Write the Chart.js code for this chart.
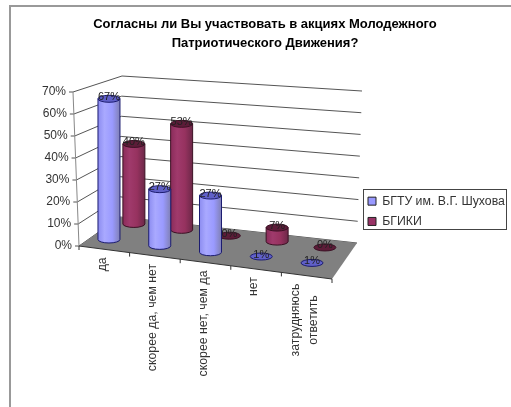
<!DOCTYPE html>
<html>
<head>
<meta charset="utf-8">
<style>html,body{margin:0;padding:0;background:#fff}canvas{display:block}</style>
<script src="https://cdn.jsdelivr.net/npm/chart.js@4/dist/chart.umd.min.js"></script>
</head>
<body>
<canvas id="c" width="511" height="407"></canvas>
<script>
const titleLines = ["Согласны ли Вы участвовать в акциях Молодежного", "Патриотического Движения?"];
const categories = ["да", "скорее да, чем нет", "скорее нет, чем да", "нет", ["затрудняюсь", "ответить"]];
const seriesNames = ["БГТУ им. В.Г. Шухова", "БГИКИ"];
const bgtuValues = [67, 27, 27, 1, 1];
const bgikiValues = [40, 53, 0, 7, 0];
const yTickStep = 10;
const yMax = 70;

// Oblique frame the flat scales are projected into
const FL = [79, 246], FR = [332, 279], BR = [357, 243], BL = [120, 217];
const topL = [73, 92], topBL = [122, 76], topBR = [362, 91];
const legendBox = {left: 363, top: 189, right: 507, bottom: 230};
const rows = [
  {x0: 83.6, x1: 337.4, y0: 236.3, y1: 268.2, unit: 2.1,
   stops: ['#8c8cf0', '#a9a9ff', '#9a9aff', '#8080b4'], cap: '#6060c8', line: '#1c1c70'},
  {x0: 110, x1: 348.75, y0: 221, y1: 250.4, unit: 2.0,
   stops: ['#8a2c5a', '#a03a6c', '#96325f', '#6c2848'], cap: '#5c1c38', line: '#3c1024'}
];
const lerp = (a, b, t) => [a[0] + (b[0] - a[0]) * t, a[1] + (b[1] - a[1]) * t];
const RX = 11, RY = 3.5;

function cylinder(ctx, cx, baseY, topY, row) {
  if (baseY - topY > 3) {
    const g = ctx.createLinearGradient(cx - RX, 0, cx + RX, 0);
    g.addColorStop(0, row.stops[0]);
    g.addColorStop(0.3, row.stops[1]);
    g.addColorStop(0.65, row.stops[2]);
    g.addColorStop(1, row.stops[3]);
    ctx.beginPath();
    ctx.moveTo(cx - RX, topY);
    ctx.lineTo(cx - RX, baseY);
    ctx.ellipse(cx, baseY, RX, RY, 0, Math.PI, 0, true);
    ctx.lineTo(cx + RX, topY);
    ctx.closePath();
    ctx.fillStyle = g;
    ctx.fill();
    ctx.strokeStyle = row.line;
    ctx.lineWidth = 1;
    ctx.stroke();
  }
  ctx.beginPath();
  ctx.ellipse(cx, topY, RX, RY, 0, 0, Math.PI * 2);
  ctx.fillStyle = row.cap;
  ctx.fill();
  ctx.strokeStyle = row.line;
  ctx.lineWidth = 1;
  ctx.stroke();
}

function barPoint(chart, meta, i) {
  const area = chart.chartArea, y = chart.scales.y, row = rows[meta.index], el = meta.data[i];
  const u = (el.x - area.left) / (area.right - area.left);
  const baseY = row.y0 + (row.y1 - row.y0) * u;
  return {
    cx: row.x0 + (row.x1 - row.x0) * u,
    baseY,
    topY: baseY - y.getValueForPixel(el.y) * row.unit,
    row
  };
}

const frame3d = {
  id: 'frame3d',
  afterLayout(chart) {
    const t = chart.titleBlock;
    t.left = 19; t.right = 511; t.top = 14.5;
    const l = chart.legend;
    l.left = legendBox.left - 3; l.right = legendBox.right; l.top = legendBox.top - 2; l.bottom = chart.height;
  },
  beforeDraw(chart) {
    const ctx = chart.ctx, xs = chart.scales.x, ys = chart.scales.y;
    // page frame
    ctx.save();
    ctx.fillStyle = '#fff';
    ctx.fillRect(0, 0, chart.width, chart.height);
    ctx.fillStyle = '#999';
    ctx.fillRect(9, 5, 2, chart.height - 5);
    ctx.fillRect(9, 5, chart.width - 9, 2);
    ctx.restore();
    // move tick labels onto the oblique axes
    const tf = xs.options.ticks.font;
    const lineH = tf.size * tf.lineHeight;
    ctx.save();
    ctx.font = tf.size + 'px "Liberation Sans"';
    xs.getLabelItems(chart.chartArea).forEach((it, i) => {
      const u = (xs.getPixelForTick(i) - chart.chartArea.left) / (chart.chartArea.right - chart.chartArea.left);
      const p = lerp(FL, FR, u);
      let y = p[1] + 8, n = 1;
      if (Array.isArray(it.label)) {
        n = it.label.length;
        y += Math.max(...it.label.map(s => ctx.measureText(s).width)) / 2;
        it.options.textAlign = 'center';
      }
      it.options.translation = [p[0] - 2 - n * lineH / 2, y];
    });
    ctx.restore();
    ys.getLabelItems(chart.chartArea).forEach((it, i) => {
      const p = lerp(FL, topL, ys.ticks[i].value / yMax);
      it.options.translation = [p[0] - 7, p[1]];
      it.options.textAlign = 'right';
    });
    ys.left = 0; ys.right = chart.width;
    xs.top = 0; xs.bottom = chart.height;
  },
  beforeDatasetsDraw(chart) {
    const ctx = chart.ctx, ys = chart.scales.y;
    ctx.save();
    // gridlines
    ctx.lineWidth = 1;
    ctx.strokeStyle = '#555';
    ys.ticks.forEach(tk => {
      const t = tk.value / yMax;
      const a = lerp(FL, topL, t), b = lerp(BL, topBL, t), c = lerp(BR, topBR, t);
      ctx.beginPath();
      ctx.moveTo(a[0] - 4, a[1]);
      ctx.lineTo(a[0], a[1]);
      ctx.lineTo(b[0], b[1]);
      ctx.lineTo(c[0], c[1]);
      ctx.stroke();
    });
    // floor
    ctx.beginPath();
    ctx.moveTo(FL[0], FL[1]);
    ctx.lineTo(FR[0], FR[1]);
    ctx.lineTo(BR[0], BR[1]);
    ctx.lineTo(BL[0], BL[1]);
    ctx.closePath();
    ctx.fillStyle = '#808080';
    ctx.fill();
    // left wall edge
    ctx.strokeStyle = '#888';
    ctx.beginPath();
    ctx.moveTo(FL[0], FL[1]);
    ctx.lineTo(topL[0], topL[1]);
    ctx.stroke();
    // front edge and category ticks
    ctx.strokeStyle = '#333';
    ctx.beginPath();
    ctx.moveTo(FL[0], FL[1]);
    ctx.lineTo(FR[0], FR[1]);
    for (let i = 0; i <= categories.length; i++) {
      const p = lerp(FL, FR, i / categories.length);
      ctx.moveTo(p[0], p[1]);
      ctx.lineTo(p[0], p[1] + 4);
    }
    ctx.stroke();
    ctx.restore();
  },
  beforeDatasetDraw(chart, args) {
    const ctx = chart.ctx, meta = args.meta;
    ctx.save();
    meta.data.forEach((_, i) => {
      const p = barPoint(chart, meta, i);
      cylinder(ctx, p.cx, p.baseY, p.topY, p.row);
    });
    ctx.restore();
    return false;
  },
  afterDatasetsDraw(chart) {
    const ctx = chart.ctx;
    ctx.save();
    ctx.font = '11px "Liberation Sans"';
    ctx.textAlign = 'center';
    ctx.textBaseline = 'middle';
    ctx.fillStyle = '#222';
    [1, 0].forEach(d => {
      const meta = chart.getDatasetMeta(d);
      chart.data.datasets[d].data.forEach((v, i) => {
        const p = barPoint(chart, meta, i);
        ctx.fillText(v + '%', p.cx, p.topY - 2);
      });
    });
    ctx.restore();
  },
  afterDraw(chart) {
    const ctx = chart.ctx, l = legendBox;
    ctx.save();
    ctx.strokeStyle = '#444';
    ctx.lineWidth = 1;
    ctx.strokeRect(l.left + 0.5, l.top + 0.5, l.right - l.left - 1, l.bottom - l.top - 1);
    ctx.restore();
  }
};

new Chart(document.getElementById('c'), {
  type: 'bar',
  plugins: [frame3d],
  data: {
    labels: categories,
    datasets: [
      {label: seriesNames[0], data: bgtuValues, backgroundColor: '#9999ff', borderColor: '#222', borderWidth: 1, grouped: false},
      {label: seriesNames[1], data: bgikiValues, backgroundColor: '#993366', borderColor: '#222', borderWidth: 1, grouped: false}
    ]
  },
  options: {
    responsive: false,
    animation: false,
    events: [],
    font: {family: '"Liberation Sans"'},
    scales: {
      x: {
        grid: {display: false},
        border: {display: false},
        ticks: {autoSkip: false, minRotation: 90, maxRotation: 90, color: '#333',
                font: {family: '"Liberation Sans"', size: 12.3, lineHeight: 1.42}}
      },
      y: {
        min: 0,
        max: yMax,
        grid: {display: false},
        border: {display: false},
        ticks: {stepSize: yTickStep, color: '#333',
                font: {family: '"Liberation Sans"', size: 12},
                callback: v => v + '%'}
      }
    },
    plugins: {
      title: {
        display: true,
        text: titleLines,
        color: '#000',
        padding: 0,
        font: {family: '"Liberation Sans"', size: 13, weight: 'bold', lineHeight: 1.46}
      },
      legend: {
        position: 'right',
        align: 'start',
        labels: {
          boxWidth: 8,
          boxHeight: 8,
          padding: 8,
          color: '#333',
          font: {family: '"Liberation Sans"', size: 12.3}
        }
      },
      tooltip: {enabled: false}
    }
  }
});
</script>
</body>
</html>
